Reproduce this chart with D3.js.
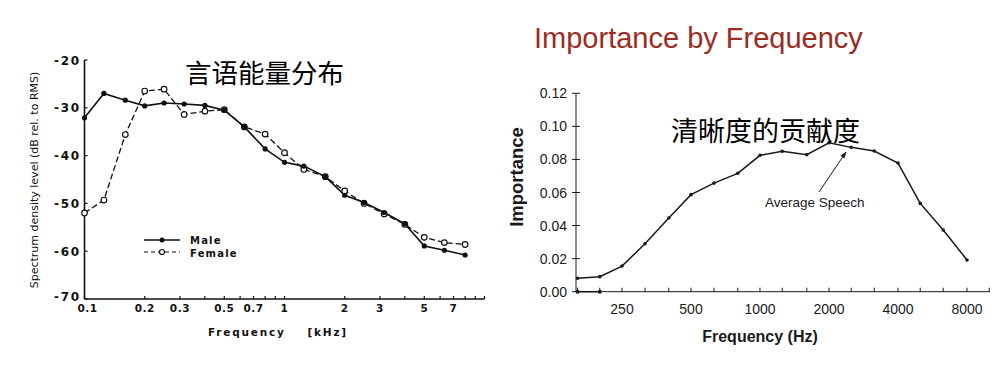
<!DOCTYPE html>
<html><head><meta charset="utf-8">
<script src="https://cdn.jsdelivr.net/npm/d3@7"></script>
<style>
body{margin:0;background:#fff;}
svg{display:block;}
</style></head>
<body>
<svg id="c" width="1004" height="366"></svg>
<script>
// ---------- Left chart data ----------
const leftFreqKHz = [0.1,0.125,0.16,0.2,0.25,0.315,0.4,0.5,0.63,0.8,1,1.25,1.6,2,2.5,3.15,4,5,6.3,8];
const maleDB   = [-32.1,-27.0,-28.4,-29.6,-29.0,-29.2,-29.5,-30.5,-34.0,-38.6,-41.4,-42.2,-44.4,-48.3,-49.8,-51.9,-54.3,-58.9,-59.8,-60.8];
const femaleDB = [-52.0,-49.3,-35.6,-26.5,-26.1,-31.4,-30.7,-30.4,-34.0,-35.5,-39.4,-42.9,-44.4,-47.4,-50.0,-52.2,-54.4,-57.1,-58.2,-58.6];
const leftYTicks = [-20,-30,-40,-50,-60,-70];
const leftXTickVals = [0.1,0.2,0.3,0.5,0.7,1,2,3,5,7];
const leftXTickLabels = ["0.1","0.2","0.3","0.5","0.7","1","2","3","5","7"];
const leftMinorTicks = [0.1,0.2,0.3,0.4,0.5,0.6,0.7,0.8,0.9,1,2,3,4,5,6,7,8,9,10];
const leftLegend = ["Male","Female"];

// ---------- Right chart data ----------
const rightFreqHz = [160,200,250,315,400,500,630,800,1000,1250,1600,2000,2500,3150,4000,5000,6300,8000];
const importance = [0.0081,0.0091,0.0155,0.029,0.0446,0.0587,0.0657,0.0716,0.0825,0.0849,0.0829,0.0901,0.0873,0.0851,0.0778,0.0534,0.0373,0.0192];
const rightYTicks = [0,0.02,0.04,0.06,0.08,0.10,0.12];
const rightXTickLabels = [250,500,1000,2000,4000,8000];
const rightMinorTicks = [160,200,250,315,400,500,630,800,1000,1250,1600,2000,2500,3150,4000,5000,6300,8000,10000];
const zeroDotsHz = [160,200];

const svg = d3.select("#c");

// ================= LEFT CHART =================
const L = svg.append("g");
const lx = d3.scaleLog().domain([0.1,10]).range([84.5,484.5]);
const ly = d3.scaleLinear().domain([-70,-20]).range([299,60]);
const scanFont = "'DejaVu Sans', sans-serif";
const ink = "#111";

// axes
L.append("line").attr("x1",lx(0.1)).attr("x2",lx(0.1)).attr("y1",ly(-20)).attr("y2",ly(-70)).attr("stroke",ink).attr("stroke-width",1.6);
L.append("line").attr("x1",lx(0.1)).attr("x2",lx(10)).attr("y1",ly(-70)).attr("y2",ly(-70)).attr("stroke",ink).attr("stroke-width",1.6);
L.selectAll(".ly").data(leftYTicks).enter().append("line")
  .attr("x1",lx(0.1)).attr("x2",lx(0.1)+3).attr("y1",d=>ly(d)).attr("y2",d=>ly(d)).attr("stroke",ink).attr("stroke-width",1.2);
L.selectAll(".lyt").data(leftYTicks).enter().append("text")
  .attr("x",81).attr("y",d=>ly(d)+(d===-70?2:4.5)).attr("text-anchor","end")
  .attr("font-family",scanFont).attr("font-size",12).attr("font-weight","bold").attr("letter-spacing",1.8).attr("fill",ink)
  .text(d=>"-"+Math.abs(d));
L.selectAll(".lxm").data(leftMinorTicks).enter().append("line")
  .attr("x1",d=>lx(d)).attr("x2",d=>lx(d)).attr("y1",ly(-70)).attr("y2",ly(-70)-3).attr("stroke",ink).attr("stroke-width",1.2);
L.selectAll(".lxt").data(leftXTickVals).enter().append("text")
  .attr("x",d=>lx(d)+(d===0.1?3:0)).attr("y",312).attr("text-anchor","middle")
  .attr("font-family",scanFont).attr("font-size",10.5).attr("font-weight","bold").attr("letter-spacing",0.5).attr("fill",ink)
  .text((d,i)=>leftXTickLabels[i]);

// axis titles
L.append("text").attr("transform","translate(38,180) rotate(-90)").attr("text-anchor","middle")
  .attr("font-family",scanFont).attr("font-size",11).attr("fill",ink)
  .text("Spectrum density level  (dB rel. to RMS)");
L.append("text").attr("x",208).attr("y",336)
  .attr("font-family",scanFont).attr("font-size",10.5).attr("font-weight","bold").attr("letter-spacing",1.8).attr("fill",ink)
  .attr("xml:space","preserve").text("Frequency    [kHz]");

// lines
const lline = d3.line().x(d=>lx(d[0])).y(d=>ly(d[1]));
const maleData = leftFreqKHz.map((f,i)=>[f,maleDB[i]]);
const femaleData = leftFreqKHz.map((f,i)=>[f,femaleDB[i]]);
L.append("path").datum(femaleData).attr("d",lline).attr("fill","none").attr("stroke",ink).attr("stroke-width",1.3).attr("stroke-dasharray","6,3");
L.append("path").datum(maleData).attr("d",lline).attr("fill","none").attr("stroke",ink).attr("stroke-width",1.6);
L.selectAll(".fm").data(femaleData).enter().append("circle")
  .attr("cx",d=>lx(d[0])).attr("cy",d=>ly(d[1])).attr("r",2.8).attr("fill","#fff").attr("stroke",ink).attr("stroke-width",1.2);
L.selectAll(".mm").data(maleData).enter().append("circle")
  .attr("cx",d=>lx(d[0])).attr("cy",d=>ly(d[1])).attr("r",2.6).attr("fill",ink);

// legend
const lg = L.append("g");
lg.append("line").attr("x1",144).attr("x2",180).attr("y1",240).attr("y2",240).attr("stroke",ink).attr("stroke-width",1.5);
lg.append("circle").attr("cx",162).attr("cy",240).attr("r",2.5).attr("fill",ink);
lg.append("line").attr("x1",144).attr("x2",180).attr("y1",252).attr("y2",252).attr("stroke",ink).attr("stroke-width",1.2).attr("stroke-dasharray","4,3");
lg.append("circle").attr("cx",162).attr("cy",252).attr("r",2.5).attr("fill","#fff").attr("stroke",ink).attr("stroke-width",1.2);
lg.selectAll(".lgt").data(leftLegend).enter().append("text")
  .attr("x",190).attr("y",(d,i)=>244+i*12.5)
  .attr("font-family",scanFont).attr("font-size",10).attr("font-weight","bold").attr("letter-spacing",1.2).attr("fill",ink)
  .text(d=>d);

// chinese title
L.append("text").attr("x",185).attr("y",83).attr("font-family","'Noto Sans CJK SC', sans-serif")
  .attr("font-size",26.5).attr("fill","#000").text("言语能量分布");

// ================= RIGHT CHART =================
const R = svg.append("g");
const rx = d3.scaleLog().domain([157.5,10079]).range([576,990]);
const ry = d3.scaleLinear().domain([0,0.12]).range([291.7,93.3]);
const arial = "'Liberation Sans', Arial, sans-serif";
const rink = "#1a1a1a";

R.append("text").attr("x",534).attr("y",48).attr("font-family",arial).attr("font-size",29).attr("fill","#9b2c1f")
  .text("Importance by Frequency");

R.append("line").attr("x1",576).attr("x2",576).attr("y1",ry(0.12)).attr("y2",ry(0)).attr("stroke",rink).attr("stroke-width",1);
R.append("line").attr("x1",576).attr("x2",990).attr("y1",ry(0)).attr("y2",ry(0)).attr("stroke",rink).attr("stroke-width",1);
R.selectAll(".ryk").data(rightYTicks).enter().append("line")
  .attr("x1",572).attr("x2",580).attr("y1",d=>ry(d)).attr("y2",d=>ry(d)).attr("stroke",rink).attr("stroke-width",1);
R.selectAll(".ryt").data(rightYTicks).enter().append("text")
  .attr("x",567).attr("y",d=>ry(d)+5).attr("text-anchor","end")
  .attr("font-family",arial).attr("font-size",14).attr("fill",rink)
  .text(d=>d3.format(".2f")(d));
R.selectAll(".rxk").data(rightMinorTicks).enter().append("line")
  .attr("x1",d=>rx(d)).attr("x2",d=>rx(d)).attr("y1",ry(0)).attr("y2",ry(0)-4).attr("stroke",rink).attr("stroke-width",1);
R.selectAll(".rxt").data(rightXTickLabels).enter().append("text")
  .attr("x",d=>rx(d)).attr("y",314).attr("text-anchor","middle")
  .attr("font-family",arial).attr("font-size",14).attr("fill",rink)
  .text(d=>d);

R.append("text").attr("x",760).attr("y",342).attr("text-anchor","middle")
  .attr("font-family",arial).attr("font-size",16).attr("font-weight","bold").attr("fill",rink)
  .text("Frequency (Hz)");
R.append("text").attr("transform","translate(523,177) rotate(-90)").attr("text-anchor","middle")
  .attr("font-family",arial).attr("font-size",18.5).attr("font-weight","bold").attr("fill",rink)
  .text("Importance");

const rdata = rightFreqHz.map((f,i)=>[f,importance[i]]);
const rline = d3.line().x(d=>rx(d[0])).y(d=>ry(d[1]));
R.append("path").datum(rdata).attr("d",rline).attr("fill","none").attr("stroke",rink).attr("stroke-width",1.5);
R.selectAll(".rm").data(rdata).enter().append("circle")
  .attr("cx",d=>rx(d[0])).attr("cy",d=>ry(d[1])).attr("r",1.8).attr("fill",rink);
R.append("path").datum(zeroDotsHz.map(f=>[f,0])).attr("d",rline).attr("stroke",rink).attr("stroke-width",1.5);
R.selectAll(".zd").data(zeroDotsHz).enter().append("circle")
  .attr("cx",d=>rx(d)).attr("cy",ry(0)).attr("r",2).attr("fill",rink);

// annotation
const defs = svg.append("defs");
defs.append("marker").attr("id","arr").attr("viewBox","0 0 10 10").attr("refX",9).attr("refY",5)
  .attr("markerWidth",7).attr("markerHeight",7).attr("orient","auto")
  .append("path").attr("d","M0,1.5 L10,5 L0,8.5 z").attr("fill",rink);
R.append("line").attr("x1",819).attr("y1",192).attr("x2",846).attr("y2",152)
  .attr("stroke",rink).attr("stroke-width",1).attr("marker-end","url(#arr)");
R.append("text").attr("x",765).attr("y",207).attr("font-family",arial).attr("font-size",13.5).attr("fill",rink)
  .text("Average Speech");

R.append("text").attr("x",671).attr("y",141).attr("font-family","'Noto Sans CJK SC', sans-serif")
  .attr("font-size",27).attr("fill","#000").text("清晰度的贡献度");
</script>
</body></html>
